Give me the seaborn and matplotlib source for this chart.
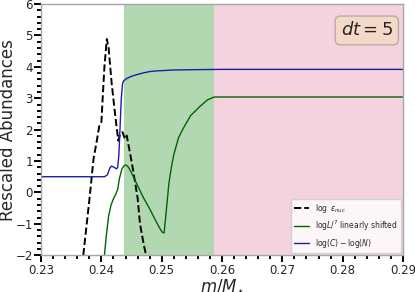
import matplotlib
matplotlib.use("Agg")
import matplotlib.pyplot as plt
import seaborn as sns
import pandas as pd
from matplotlib.ticker import MultipleLocator

# curves (m/M*, value)
m_cn = [0.230, 0.2405, 0.2410, 0.2414, 0.2417, 0.2421, 0.2425, 0.2427, 0.2429,
        0.2431, 0.2433, 0.2435, 0.2437, 0.2442, 0.2450, 0.2460, 0.2470, 0.2480,
        0.2490, 0.2500, 0.2520, 0.2550, 0.2600, 0.2900]
cn = [0.50, 0.50, 0.56, 0.78, 0.84, 0.80, 0.75, 0.80, 1.20,
      2.10, 3.00, 3.45, 3.56, 3.63, 3.70, 3.76, 3.81, 3.85,
      3.87, 3.88, 3.90, 3.91, 3.92, 3.92]

m_lum = [0.2405, 0.2408, 0.2412, 0.2416, 0.2420, 0.2424, 0.2427, 0.2430, 0.2434,
         0.2438, 0.2441, 0.2445, 0.2450, 0.2460, 0.2470, 0.2480, 0.2490, 0.2497,
         0.2501, 0.2504, 0.2506, 0.2509, 0.2512, 0.2516, 0.2520, 0.2528, 0.2536,
         0.2548, 0.2564, 0.2576, 0.2587, 0.2900]
lum = [-2.00, -1.40, -0.75, -0.40, -0.20, -0.05, 0.10, 0.45, 0.75,
       0.86, 0.87, 0.80, 0.62, 0.22, -0.18, -0.52, -0.90, -1.15,
       -1.27, -1.29, -0.90, -0.30, 0.30, 0.80, 1.20, 1.75, 2.05,
       2.45, 2.75, 2.95, 3.04, 3.04]

m_eps = [0.2370, 0.2375, 0.2381, 0.2387, 0.2392, 0.2397, 0.2400, 0.2402, 0.2405,
         0.2409, 0.2412, 0.2417, 0.2423, 0.2428, 0.2431, 0.2435, 0.2439, 0.2442,
         0.2448, 0.2453, 0.2460, 0.2464, 0.2470, 0.2474]
eps = [-2.00, -1.12, -0.07, 1.08, 1.60, 2.18, 2.24, 2.96, 4.00,
       4.89, 4.60, 3.48, 2.44, 1.65, 1.85, 1.92, 1.70, 1.81,
       1.20, 0.66, -0.17, -1.00, -1.64, -2.00]

zone_green = (0.2437, 0.2587)
zone_pink = (0.2587, 0.2900)

df_eps = pd.DataFrame({"m": m_eps, "v": eps})
df_lum = pd.DataFrame({"m": m_lum, "v": lum})
df_cn = pd.DataFrame({"m": m_cn, "v": cn})

sns.set_style("ticks")
fig = plt.figure(figsize=(4.15, 2.92), dpi=100)
ax = fig.add_axes([0.099, 0.126, 0.872, 0.86])

ax.axvspan(*zone_green, color="green", alpha=0.3, lw=0)
ax.axvspan(*zone_pink, color="palevioletred", alpha=0.3, lw=0)

sns.lineplot(data=df_eps, x="m", y="v", ax=ax, sort=False, color="black",
             lw=1.4, linestyle="--", label=r"$\log\ \varepsilon_{nuc}$")
sns.lineplot(data=df_lum, x="m", y="v", ax=ax, sort=False, color="darkgreen",
             lw=1.0, label=r"log$L/^{7}$ linearly shifted")
sns.lineplot(data=df_cn, x="m", y="v", ax=ax, sort=False, color="#1c1ca8",
             lw=1.0, label=r"$\log(C)-\log(N)$")

ax.set_xlim(0.23, 0.29)
ax.set_ylim(-2, 6)
ax.xaxis.set_major_locator(MultipleLocator(0.01))
ax.xaxis.set_minor_locator(MultipleLocator(0.002))
ax.yaxis.set_major_locator(MultipleLocator(1))
ax.yaxis.set_minor_locator(MultipleLocator(0.2))
ax.set_xticklabels([f"{t:.2f}" for t in ax.get_xticks()])
for axis in (ax.xaxis, ax.yaxis):
    axis.set_tick_params(which="major", length=5, width=1.4, color="black",
                         direction="out", labelsize=8.5, pad=1)
    axis.set_tick_params(which="minor", length=3, width=1.4, color="black",
                         direction="out")
ax.xaxis.set_ticks_position("bottom")
ax.yaxis.set_ticks_position("left")
for s in ax.spines.values():
    s.set_color("0.65")
    s.set_linewidth(1)

ax.set_xlabel(r"$m/M_{\star}$", fontsize=12)
ax.xaxis.set_label_coords(0.5, -0.083)
ax.set_ylabel("Rescaled Abundances", fontsize=12)
ax.yaxis.set_label_coords(-0.066, 0.5)

ax.text(0.90, 0.895, r"$dt = 5$", transform=ax.transAxes, fontsize=13,
        ha="center", va="center",
        bbox=dict(boxstyle="round", facecolor="wheat", alpha=0.5, edgecolor="0.5"))

leg = ax.legend(loc="lower right", fontsize=5.5, frameon=True, borderaxespad=0.3)
leg.get_frame().set_edgecolor("0.8")

fig.savefig("out.png", dpi=100)
